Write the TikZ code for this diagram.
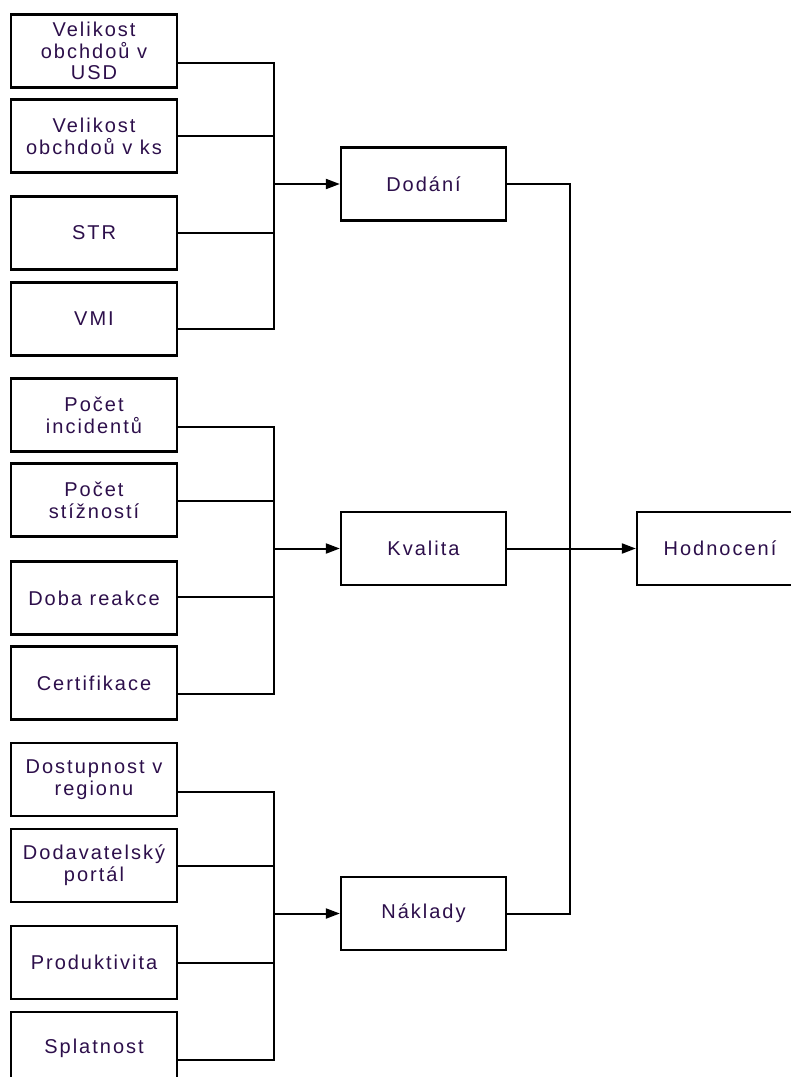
\documentclass[tikz,border=0pt]{standalone}
\usepackage{fontspec}
\setmainfont{Liberation Sans}[LetterSpace=10]
\usetikzlibrary{arrows.meta}
\definecolor{txt}{RGB}{45,15,75}
\tikzset{
  box/.style={draw=black, line width=2.3pt, fill=white, minimum width=166pt,
    minimum height=73pt, inner sep=0pt, align=center, text=txt,
    font=\fontsize{20}{21.7}\selectfont},
  mid/.style={box, minimum width=165pt},
  link/.style={draw=black, line width=2pt},
  feed/.style={link, -{Triangle[length=14pt,width=10pt]}}
}
\begin{document}
\begin{tikzpicture}[x=1pt,y=-1pt]
\useasboundingbox (0,0) rectangle (791,1077);
\clip (0,0) rectangle (791,1077);
\fill[white] (0,0) rectangle (791,1077);

% delivery criteria
\node[box] (a1) at (94,51)  {Velikost\\obchdoů v\\USD};
\node[box] (a2) at (94,136) {Velikost\\obchdoů v ks};
\node[box] (a3) at (94,233) {STR};
\node[box] (a4) at (94,319) {VMI};

% quality criteria
\node[box] (b1) at (94,415) {Počet\\incidentů};
\node[box] (b2) at (94,500) {Počet\\stížností};
\node[box] (b3) at (94,598) {Doba reakce};
\node[box] (b4) at (94,683) {Certifikace};

% cost criteria
\node[box] (c1) at (94,779.5)  {Dostupnost v\\regionu};
\node[box] (c2) at (94,865.5)  {Dodavatelský\\portál};
\node[box] (c3) at (94,962.5)  {Produktivita};
\node[box] (c4) at (94,1048.5) {Splatnost};

% groups and overall result
\node[mid] (d) at (423.5,184)   {Dodání};
\node[mid] (k) at (423.5,548.5) {Kvalita};
\node[mid] (n) at (423.5,913.5) {Náklady};
\node[box] (h) at (720,548.5)   {Hodnocení};

% bus junctions
\path (d.west) ++(-66,0) coordinate (jd);
\path (k.west) ++(-66,0) coordinate (jk);
\path (n.west) ++(-66,0) coordinate (jn);
\path (h.west) ++(-66,0) coordinate (jh);

% delivery bus
\draw[link] ([yshift=-12pt]a1.east) -| (jd);
\draw[link] (a2.east) -| (jd);
\draw[link] (a3.east) -| (jd);
\draw[link] ([yshift=-10pt]a4.east) -| (jd);
\draw[feed] (jd) -- (d.west);

% quality bus
\draw[link] ([yshift=-12pt]b1.east) -| (jk);
\draw[link] ([yshift=-1pt]b2.east) -| (jk);
\draw[link] ([yshift=1pt]b3.east) -| (jk);
\draw[link] ([yshift=-11pt]b4.east) -| (jk);
\draw[feed] (jk) -- (k.west);

% cost bus
\draw[link] ([yshift=-12.5pt]c1.east) -| (jn);
\draw[link] (c2.east) -| (jn);
\draw[link] (c3.east) -| (jn);
\draw[link] ([yshift=-11.5pt]c4.east) -| (jn);
\draw[feed] (jn) -- (n.west);

% groups into the overall result
\draw[link] (d.east) -| (jh);
\draw[link] (n.east) -| (jh);
\draw[feed] (k.east) -- (h.west);
\end{tikzpicture}
\end{document}
